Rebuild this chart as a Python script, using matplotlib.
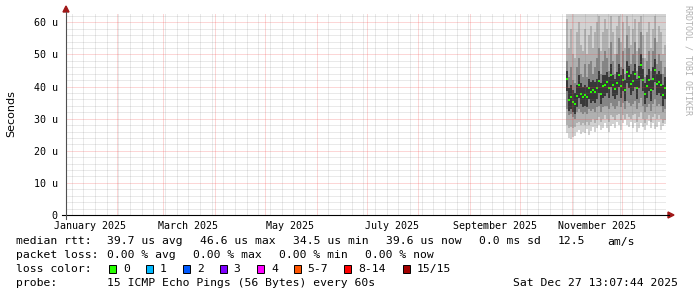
import numpy as np
import pandas as pd
import matplotlib
matplotlib.use('Agg')
import matplotlib.pyplot as plt
from matplotlib.lines import Line2D
from matplotlib.patches import Rectangle, Polygon
from datetime import datetime, timedelta

W, H = 697, 297

# --- time frame ---
t_end = datetime(2025, 12, 27, 13, 7, 44)
t_start = t_end - timedelta(days=360)
smoke_start = t_end - timedelta(days=60)
step_days = 1.2

# --- data: median rtt per column (us) ---
median = [42.5, 35.8, 36.8, 35.3, 34.5, 37.0, 40.4, 37.8, 36.8, 37.3,
          36.6, 39.4, 38.3, 38.9, 38.3, 39.4, 41.8, 37.8, 40.1, 40.4,
          41.4, 39.7, 43.6, 40.4, 39.1, 41.1, 43.6, 40.1, 42.0, 38.9,
          44.6, 43.3, 40.9, 41.8, 43.9, 39.4, 43.0, 46.6, 42.0, 37.8,
          40.1, 42.0, 38.9, 42.5, 45.1, 40.9, 41.4, 40.4, 37.3, 39.6]

# smoke envelopes (outer -> inner)
lo1 = [25.5, 24.0, 23.8, 24.2, 24.5, 25.8, 26.5, 25.2, 26.0, 25.5,
       26.8, 25.0, 26.2, 27.5, 26.0, 27.0, 28.0, 26.5, 27.2, 28.5,
       27.0, 26.0, 27.8, 28.2, 27.0, 29.0, 28.0, 26.5, 28.5, 29.5,
       28.0, 27.5, 29.0, 27.0, 28.5, 26.0, 27.2, 28.8, 27.5, 26.5,
       28.0, 29.2, 27.0, 28.5, 26.8, 27.5, 29.0, 26.5, 27.8, 28.2]
hi1 = [66, 68, 65, 67, 69, 66, 64, 68, 67, 65,
       66, 69, 67, 65, 68, 66, 64, 67, 69, 66,
       65, 68, 66, 67, 64, 69, 66, 65, 68, 67,
       66, 64, 69, 67, 65, 68, 66, 67, 65, 69,
       66, 68, 64, 67, 66, 69, 65, 67, 68, 66]
lo2 = [28.0, 27.0, 27.5, 27.0, 27.5, 28.5, 29.0, 28.0, 28.5, 28.0,
       29.0, 28.0, 29.0, 30.0, 28.5, 29.5, 30.5, 29.0, 30.0, 31.0,
       30.0, 29.0, 31.0, 30.5, 29.5, 31.0, 31.5, 29.5, 31.0, 30.0,
       31.5, 30.5, 30.0, 31.0, 31.5, 29.0, 30.5, 32.0, 30.0, 28.5,
       30.0, 31.0, 29.0, 30.5, 31.5, 30.0, 31.0, 30.0, 28.5, 29.5]
hi2 = [61, 52, 58, 50, 49, 57, 60, 53, 51, 58,
       50, 56, 59, 52, 57, 60, 62, 51, 57, 61,
       58, 52, 62, 57, 50, 59, 62, 54, 60, 52,
       62, 59, 53, 58, 61, 51, 60, 62, 56, 49,
       57, 60, 52, 58, 62, 54, 59, 57, 50, 53]
lo3 = [33.0, 31.0, 31.5, 30.5, 30.0, 32.0, 33.0, 32.0, 31.5, 32.0,
       31.5, 33.0, 32.5, 33.0, 32.0, 33.5, 34.0, 32.0, 33.5, 34.0,
       34.0, 33.0, 35.0, 34.0, 33.0, 34.0, 35.5, 33.5, 35.0, 33.0,
       35.5, 35.0, 34.0, 34.5, 35.5, 33.0, 35.0, 36.5, 34.0, 32.0,
       33.5, 34.5, 32.5, 34.5, 36.0, 34.0, 34.5, 34.0, 32.0, 33.0]
hi3 = [48, 43, 46, 42, 41, 46, 49, 44, 43, 47,
       43, 47, 48, 44, 46, 49, 52, 44, 48, 51,
       49, 45, 54, 48, 44, 50, 55, 46, 51, 44,
       56, 52, 47, 50, 54, 45, 52, 57, 49, 43,
       48, 51, 45, 51, 55, 47, 50, 48, 44, 46]
lo4 = [38.5, 32.5, 33.0, 32.0, 31.5, 33.5, 36.5, 34.5, 33.5, 34.0,
       33.5, 36.0, 35.0, 35.5, 35.0, 36.0, 38.0, 34.5, 36.5, 37.0,
       38.0, 36.5, 40.0, 37.0, 36.0, 37.5, 40.0, 36.5, 38.5, 35.5,
       41.0, 39.5, 37.5, 38.5, 40.0, 36.0, 39.5, 42.5, 38.5, 34.5,
       36.5, 38.5, 35.5, 39.0, 41.5, 37.5, 38.0, 37.0, 34.0, 36.0]
hi4 = [45.0, 39.5, 40.5, 39.0, 38.0, 40.5, 43.5, 41.0, 40.0, 40.5,
       40.0, 42.5, 41.5, 42.0, 41.5, 42.5, 45.0, 41.0, 43.5, 43.5,
       44.5, 43.0, 47.0, 43.5, 42.5, 44.5, 47.0, 43.5, 45.5, 42.0,
       48.0, 46.5, 44.0, 45.0, 47.0, 42.5, 46.5, 50.0, 45.5, 41.0,
       43.5, 45.5, 42.0, 46.0, 48.5, 44.0, 45.0, 44.0, 40.5, 43.0]

y_ticks = [0, 10, 20, 30, 40, 50, 60]
y_labels = ['0', '10 u', '20 u', '30 u', '40 u', '50 u', '60 u']
x_label_months = [1, 3, 5, 7, 9, 11]
x_labels = ['January 2025', 'March 2025', 'May 2025', 'July 2025',
            'September 2025', 'November 2025']

loss_labels = ['0', '1', '2', '3', '4', '5-7', '8-14', '15/15']
loss_colors = ['#26ff00', '#00b8ff', '#0059ff', '#7e00ff', '#ff00ff',
               '#ff5500', '#ff0000', '#a10000']

MONO = 'DejaVu Sans Mono'


def fx(x):
    return x / W


def fy(y):
    return 1 - y / H


fig = plt.figure(figsize=(W / 100, H / 100), dpi=100)
ax = fig.add_axes([fx(66), fy(215), 600 / W, (215 - 14) / H])
ax.set_xlim(t_start, t_end)
ax.set_ylim(0, 62.6)
for s in ax.spines.values():
    s.set_visible(False)

# --- smoke ---
cols = [smoke_start + timedelta(days=step_days * i) for i in range(len(median))]
bands = [(lo1, hi1, '#d2d2d2'), (lo2, hi2, '#b0b0b0'),
         (lo3, hi3, '#858585'), (lo4, hi4, '#383838')]
for lo, hi, c in bands:
    lo, hi = np.array(lo), np.array(hi)
    ax.bar(cols, hi - lo, bottom=lo, width=step_days, align='edge',
           color=c, linewidth=0, antialiased=False, zorder=2)
centers = [c + timedelta(days=step_days / 2) for c in cols]
ax.scatter(centers, median, marker='s', s=4.5, color='#26ff00', linewidths=0, zorder=4)

# --- grid (rrdtool style dotted, faint) ---
dots = (0, (1, 1))
minor_c = (0.45, 0.45, 0.45, 0.3)
major_c = (0.95, 0.25, 0.25, 0.42)
months = pd.date_range('2025-01-01', '2025-12-31', freq='MS')
weeks = pd.date_range('2025-01-01', '2025-12-31', freq='W-SUN')
kw = dict(lw=0.72, ls=dots, zorder=5)
for d in weeks:
    if d.day != 1:
        ax.axvline(d, color=minor_c, **kw)
for d in months:
    if d > t_start:
        ax.axvline(d, color=major_c, **kw)
for v in np.arange(2, 63, 2):
    if v % 10:
        ax.axhline(v, color=minor_c, **kw)
for v in y_ticks[1:]:
    ax.axhline(v, color=major_c, **kw)

# --- ticks ---
ax.set_yticks(y_ticks)
ax.set_yticklabels(y_labels, family=MONO, fontsize=7.2)
ax.set_xticks([datetime(2025, m, 16) for m in x_label_months])
ax.set_xticklabels(x_labels, family=MONO, fontsize=7.2)
ax.tick_params(axis='y', length=0, pad=6)
ax.tick_params(axis='x', length=0, pad=4)

# --- axes with arrows ---
fig.add_artist(Line2D([fx(62), fx(669)], [fy(215), fy(215)], color='black', lw=0.8))
fig.add_artist(Line2D([fx(66), fx(66)], [fy(219), fy(12)], color='#505050', lw=0.8))
arrow_c = '#a01818'
fig.add_artist(Polygon([(fx(63), fy(12)), (fx(69), fy(12)), (fx(66), fy(6))],
                       closed=True, color=arrow_c))
fig.add_artist(Polygon([(fx(668), fy(212)), (fx(668), fy(218)), (fx(674), fy(215))],
                       closed=True, color=arrow_c))

# --- labels ---
fig.text(fx(11), fy(114), 'Seconds', rotation=90, ha='center', va='center',
         fontsize=8, family='DejaVu Sans')
fig.text(fx(688), fy(5), 'RRDTOOL / TOBI OETIKER', rotation=-90, ha='center', va='top',
         fontsize=6, family=MONO, color='#b0b0b0')

# --- legend rows ---
fs = 8.2
rows = [241.5, 255.2, 269.3, 283.0]
row1 = [(16, 'median rtt:'), (107, '39.7 us avg'), (200, '46.6 us max'),
        (293, '34.5 us min'), (386, '39.6 us now'), (479, '0.0 ms sd'),
        (558, '12.5'), (607, 'am/s')]
row2 = [(16, 'packet loss:'), (107, '0.00 % avg'), (193, '0.00 % max'),
        (279, '0.00 % min'), (365, '0.00 % now')]
row4 = [(16, 'probe:'), (107, '15 ICMP Echo Pings (56 Bytes) every 60s'),
        (513, 'Sat Dec 27 13:07:44 2025')]
for y, row in [(rows[0], row1), (rows[1], row2), (rows[3], row4)]:
    for x, t in row:
        fig.text(fx(x), fy(y), t, ha='left', va='center', fontsize=fs, family=MONO)

fig.text(fx(16), fy(rows[2]), 'loss color:', ha='left', va='center', fontsize=fs, family=MONO)
box_x = [109, 146, 183, 219.5, 257, 293.5, 344, 403]
for bx, lab, c in zip(box_x, loss_labels, loss_colors):
    fig.add_artist(Rectangle((fx(bx), fy(rows[2] + 4)), 7 / W, 8 / H,
                             facecolor=c, edgecolor='black', lw=0.7))
    fig.text(fx(bx + 14), fy(rows[2]), lab, ha='left', va='center', fontsize=fs, family=MONO)

fig.savefig('out.png', dpi=100, facecolor='white')
